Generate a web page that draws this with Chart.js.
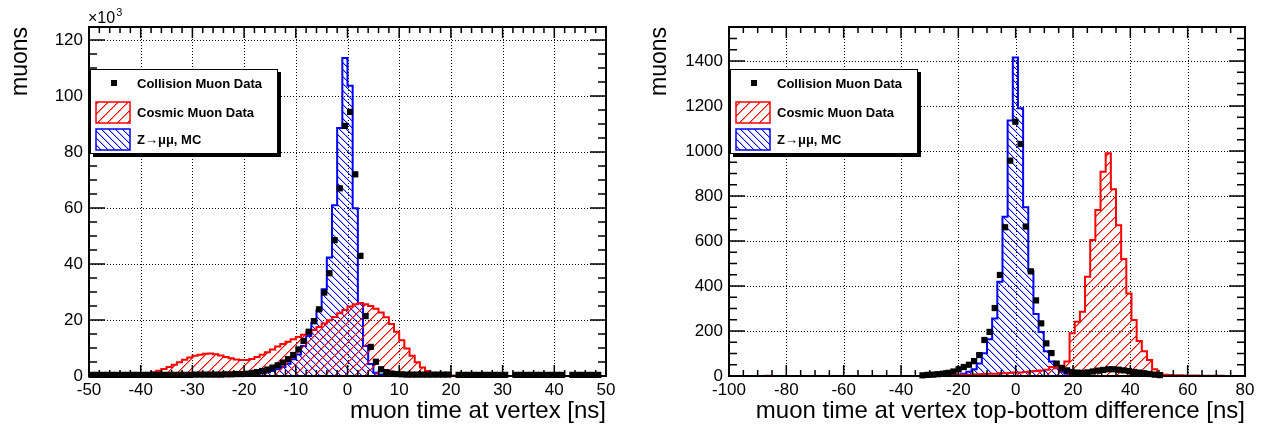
<!DOCTYPE html>
<html>
<head>
<meta charset="utf-8">
<script src="https://cdn.jsdelivr.net/npm/chart.js@4.4.1/dist/chart.umd.min.js"></script>
<style>
  html, body { margin: 0; padding: 0; background: #fff; }
  #wrap { display: flex; width: 1263px; height: 428px; }
  canvas { display: block; }
</style>
</head>
<body>
<div id="wrap">
  <canvas id="padVertex" width="632" height="428"></canvas>
  <canvas id="padTopBottom" width="631" height="428"></canvas>
</div>
<script>
// Muon timing at the vertex: collision data vs cosmics vs Z->mumu MC

const seriesNames = ['Collision Muon Data', 'Cosmic Muon Data', 'Z\u2192\u03bc\u03bc, MC'];

// left pad: 100 bins of 1 ns from -50 to 50, in units of 10^3 muons
const vertexBins = { lo: -50, hi: 50, n: 100 };
const vertexXTicks = [-50, -40, -30, -20, -10, 0, 10, 20, 30, 40, 50];
const vertexYTicks = [0, 20, 40, 60, 80, 100, 120];
const vertexCollision = [
  0.4, 0.4, 0.4, 0.4, 0.4, 0.4, 0.4, 0.4, 0.4, 0.4,
  0.4, 0.4, 0.4, 0.4, 0.4, 0.4, 0.4, 0.4, 0.4, 0.4,
  0.5, 0.5, 0.5, 0.5, 0.5, 0.5, 0.6, 0.6, 0.7, 0.7,
  0.8, 1.1, 1.4, 1.8, 2.3, 3.0, 3.8, 4.8, 6.0, 7.5,
  9.5, 12.5, 15.8, 19.6, 23.8, 29.8, 36.7, 48.5, 67, 89.3,
  94.3, 72, 42.9, 21.4, 10.4, 5.1, 2.4, 1.4, 0.9, 0.7,
  0.6, 0.5, 0.5, 0.5, 0.5, 0.5, 0.5, 0.5, 0.5, 0.5,
  null, 0.4, 0.4, 0.4, 0.4, 0.4, 0.4, 0.4, 0.4, 0.4,
  0.4, null, 0.4, 0.4, 0.4, 0.4, 0.4, 0.4, 0.4, 0.4,
  0.4, 0.4, null, 0.4, 0.4, 0.4, 0.4, 0.4, 0.4, null
];
const vertexCosmic = [
  0.1, 0.1, 0.1, 0.1, 0.1, 0.1, 0.1, 0.1, 0.2, 0.3,
  0.5, 0.8, 1.3, 1.9, 2.5, 3.2, 4.0, 4.9, 5.8, 6.6,
  7.2, 7.6, 7.9, 8.0, 7.8, 7.3, 6.8, 6.3, 5.9, 5.7,
  5.7, 6.1, 6.8, 7.6, 8.5, 9.5, 10.5, 11.4, 12.2, 13.1,
  13.9, 14.7, 15.5, 16.4, 17.5, 18.7, 19.9, 21.1, 22.4, 23.6,
  24.8, 25.6, 26.0, 25.6, 25.0, 24.0, 22.7, 21.0, 18.6, 15.8,
  12.8, 9.8, 7.2, 4.9, 3.0, 1.8, 1.1, 0.7, 0.4, 0.3,
  0.2, 0.1, 0, 0, 0, 0, 0, 0, 0, 0,
  0, 0, 0, 0, 0, 0, 0, 0, 0, 0,
  0, 0, 0, 0, 0, 0, 0, 0, 0, 0
];
const vertexZmumu = [
  0, 0, 0, 0, 0, 0, 0, 0, 0, 0,
  0, 0, 0, 0, 0, 0, 0, 0, 0, 0,
  0, 0, 0, 0, 0, 0.05, 0.08, 0.12, 0.18, 0.25,
  0.35, 0.5, 0.7, 1.0, 1.3, 1.8, 2.4, 3.2, 4.4, 6.0,
  7.7, 10.7, 14.3, 18.8, 23.5, 31, 42.3, 61, 88.5, 113.5,
  103.6, 59.9, 26, 10.7, 4.3, 1.2, 0.5, 0.3, 0.2, 0.1,
  0, 0, 0, 0, 0, 0, 0, 0, 0, 0,
  0, 0, 0, 0, 0, 0, 0, 0, 0, 0,
  0, 0, 0, 0, 0, 0, 0, 0, 0, 0,
  0, 0, 0, 0, 0, 0, 0, 0, 0, 0
];

// right pad: 100 bins of 1.8 ns from -100 to 80, in muons
const tbBins = { lo: -100, hi: 80, n: 100 };
const tbXTicks = [-100, -80, -60, -40, -20, 0, 20, 40, 60, 80];
const tbYTicks = [0, 200, 400, 600, 800, 1000, 1200, 1400];
const tbCollision = [
  null, null, null, null, null, null, null, null, null, null,
  null, null, null, null, null, null, null, null, null, null,
  null, null, null, null, null, null, null, null, null, null,
  null, null, null, null, null, null, null, 3, 5, 6,
  8, 10, 14, 20, 30, 40, 50, 66, 93, 160,
  196, 302, 449, 661, 957, 1130, 1031, 664, 465, 336,
  234, 145, 102, 55, 35, 25, 18, 15, 14, 16,
  20, 24, 27, 30, 30, 28, 25, 22, 18, 15,
  12, 9, 6, 4, null, null, null, null, null, null,
  null, null, null, null, null, null, null, null, null, null
];
const tbCosmic = [
  0, 0, 0, 0, 0, 0, 0, 1, 0, 0,
  0, 0, 0, 0, 0, 0, 0, 0, 0, 0,
  0, 0, 0, 0, 0, 0, 0, 0, 0, 0,
  0, 0, 0, 0, 0, 0, 0, 0, 0, 0,
  2, 3, 3, 4, 5, 5, 6, 7, 8, 9,
  10, 10, 12, 12, 13, 15, 16, 18, 20, 22,
  24, 28, 40, 35, 45, 64, 190, 241, 286, 441,
  604, 738, 908, 990, 830, 670, 520, 367, 249, 155,
  110, 71, 30, 12, 5, 4, 3, 3, 2, 2,
  2, 1, 1, 1, 1, 1, 0, 0, 0, 0
];
const tbZmumu = [
  0, 0, 0, 0, 0, 0, 0, 0, 0, 0,
  0, 0, 0, 0, 0, 0, 0, 0, 0, 0,
  0, 0, 0, 0, 0, 0, 0, 0, 0, 0,
  0, 0, 0, 0, 0, 0, 0, 0, 0, 0,
  0, 1, 2, 3, 5, 10, 19, 30, 56, 101,
  163, 255, 419, 708, 1135, 1416, 1190, 750, 465, 275,
  195, 110, 64, 34, 19, 10, 5, 3, 2, 1,
  0, 0, 0, 0, 0, 0, 0, 0, 0, 0,
  0, 0, 0, 0, 0, 0, 0, 0, 0, 0,
  0, 0, 0, 0, 0, 0, 0, 0, 0, 0
];

const FONT = "'Liberation Sans', Arial, Helvetica, sans-serif";
const RED = '#ff0000';
const BLUE = '#0000ff';

function binEdges(b) {
  const w = (b.hi - b.lo) / b.n;
  return Array.from({ length: b.n + 1 }, (_, i) => b.lo + i * w);
}

// ROOT-like 45 degree hatching: a solid pixel line with a softer neighbour
function hatch(ctx, rgb, dir, s, soft) {
  const c = document.createElement('canvas');
  c.width = s; c.height = s;
  const g = c.getContext('2d');
  for (let i = 0; i < s; i++) {
    const row = dir > 0 ? s - 1 - i : i;
    g.fillStyle = 'rgb(' + rgb + ')';
    g.fillRect(i, row, 1, 1);
    g.fillStyle = 'rgba(' + rgb + ',' + soft + ')';
    g.fillRect((i + 1) % s, row, 1, 1);
  }
  return ctx.createPattern(c, 'repeat');
}

function histo(label, edges, values, color, pattern, order) {
  const pts = [{ x: edges[0], y: 0 }];
  values.forEach((v, i) => {
    pts.push({ x: edges[i], y: v }, { x: edges[i + 1], y: v });
  });
  pts.push({ x: edges[edges.length - 1], y: 0 });
  return {
    label, data: pts, order,
    borderColor: color, borderWidth: 2,
    backgroundColor: pattern, fill: 'origin',
    pointRadius: 0, tension: 0, clip: 3
  };
}

function markers(label, edges, values, order) {
  const pts = [];
  values.forEach((v, i) => {
    if (v !== null) pts.push({ x: (edges[i] + edges[i + 1]) / 2, y: v });
  });
  return {
    label, data: pts, order, showLine: false,
    pointStyle: 'rect', pointRadius: 4.4, pointBorderWidth: 0,
    pointBackgroundColor: '#000', borderColor: '#000', backgroundColor: '#000',
    clip: 6
  };
}

function line(ctx, x1, y1, x2, y2) { ctx.moveTo(x1, y1); ctx.lineTo(x2, y2); }

const rootPad = {
  id: 'rootPad',
  beforeDatasetsDraw(chart, args, o) {
    // dotted grid at major ticks
    const { ctx, chartArea: a, scales: { x, y } } = chart;
    ctx.save();
    ctx.strokeStyle = '#000';
    ctx.lineWidth = 1;
    ctx.setLineDash([1, 2]);
    ctx.beginPath();
    o.xTicks.forEach(v => {
      const px = Math.round(x.getPixelForValue(v)) + 0.5;
      if (px > a.left + 2 && px < a.right - 2) line(ctx, px, a.top, px, a.bottom);
    });
    o.yTicks.forEach(v => {
      const py = Math.round(y.getPixelForValue(v)) + 0.5;
      if (py > a.top + 2 && py < a.bottom - 2) line(ctx, a.left, py, a.right, py);
    });
    ctx.stroke();
    ctx.restore();
  },
  afterDatasetsDraw(chart, args, o) {
    const { ctx, chartArea: a, scales: { x, y } } = chart;
    ctx.save();
    ctx.setLineDash([]);
    ctx.strokeStyle = '#000';
    ctx.lineWidth = 1.5;
    ctx.beginPath();
    for (let v = x.min; v <= x.max + 1e-6; v += o.xMinor) {
      const len = o.xTicks.some(t => Math.abs(t - v) < 1e-6) ? 11 : 6;
      const px = x.getPixelForValue(v);
      line(ctx, px, a.bottom, px, a.bottom - len);
      line(ctx, px, a.top, px, a.top + len);
    }
    for (let v = y.min; v <= y.max + 1e-6; v += o.yMinor) {
      const len = o.yTicks.some(t => Math.abs(t - v) < 1e-6) ? 16 : 8;
      const py = y.getPixelForValue(v);
      line(ctx, a.left, py, a.left + len, py);
      line(ctx, a.right, py, a.right - len, py);
    }
    ctx.stroke();
    ctx.lineWidth = 2;
    ctx.strokeRect(a.left, a.top, a.right - a.left, a.bottom - a.top);

    // legend box with shadow
    const ds = chart.data.datasets;
    const bx = a.left + 1, by = 69, bw = 188, bh = 85;
    ctx.fillStyle = '#000';
    ctx.fillRect(bx + 3, by + 3, bw, bh);
    ctx.fillStyle = '#fff';
    ctx.fillRect(bx, by, bw, bh);
    ctx.lineWidth = 1;
    ctx.strokeRect(bx + 0.5, by + 0.5, bw - 1, bh - 1);
    ctx.font = 'bold 13px ' + FONT;
    ctx.textBaseline = 'middle';
    ctx.textAlign = 'left';
    const rows = [14, 43, 70];
    ds.forEach((d, i) => {
      const cy = by + rows[i];
      if (d.showLine === false) {
        ctx.fillStyle = '#000';
        ctx.fillRect(bx + 21, cy - 3, 6, 6);
      } else {
        ctx.fillStyle = d.backgroundColor;
        ctx.fillRect(bx + 6, cy - 10, 34, 21);
        ctx.strokeStyle = d.borderColor;
        ctx.lineWidth = 1.5;
        ctx.strokeRect(bx + 6, cy - 10, 34, 21);
      }
      ctx.fillStyle = '#000';
      ctx.fillText(d.label, bx + 47, cy + 1);
    });

    if (o.exponent) {
      ctx.fillStyle = '#000';
      ctx.textBaseline = 'alphabetic';
      ctx.font = '16px ' + FONT;
      ctx.fillText('\u00d710', a.left - 1, 23);
      const w = ctx.measureText('\u00d710').width;
      ctx.font = '11px ' + FONT;
      ctx.fillText(o.exponent, a.left - 1 + w + 1, 16);
    }
    ctx.restore();
  }
};

function makePad(id, p) {
  const canvas = document.getElementById(id);
  const ctx = canvas.getContext('2d');
  const edges = binEdges(p.bins);
  const redFill = hatch(ctx, '255,0,0', 1, 10, 0.5);
  const blueFill = hatch(ctx, '0,0,255', -1, 7, 0.3);
  return new Chart(ctx, {
    type: 'line',
    data: {
      datasets: [
        markers(seriesNames[0], edges, p.collision, 0),
        histo(seriesNames[1], edges, p.cosmic, RED, redFill, 1),
        histo(seriesNames[2], edges, p.zmumu, BLUE, blueFill, 2)
      ]
    },
    options: {
      responsive: false,
      animation: false,
      events: [],
      layout: { padding: { top: 27, right: p.rightPad, left: 0, bottom: 0 } },
      plugins: {
        legend: { display: false },
        tooltip: { enabled: false },
        rootPad: {
          xTicks: p.xTicks, yTicks: p.yTicks,
          xMinor: p.xMinor, yMinor: p.yMinor,
          exponent: p.exponent
        }
      },
      scales: {
        x: {
          type: 'linear',
          min: p.bins.lo, max: p.bins.hi,
          afterBuildTicks: s => { s.ticks = p.xTicks.map(v => ({ value: v })); },
          afterFit: s => { s.height = 52; },
          grid: { display: false, drawTicks: false },
          border: { display: false },
          ticks: {
            color: '#000', font: { family: FONT, size: 17 },
            padding: 4, maxRotation: 0, autoSkip: false,
            callback: v => String(v)
          },
          title: {
            display: true, text: p.xTitle, align: 'end', color: '#000',
            font: { family: FONT, size: 24 }, padding: { top: 0, bottom: 2 }
          }
        },
        y: {
          type: 'linear',
          min: 0, max: p.yMax,
          afterBuildTicks: s => { s.ticks = p.yTicks.map(v => ({ value: v })); },
          afterFit: s => { s.width = p.yWidth; },
          grid: { display: false, drawTicks: false },
          border: { display: false },
          ticks: {
            color: '#000', font: { family: FONT, size: 17 },
            padding: 6, autoSkip: false,
            callback: v => String(v)
          },
          title: {
            display: true, text: 'muons', align: 'end', color: '#000',
            font: { family: FONT, size: 23 }, padding: { top: p.yTitlePad, bottom: 0 }
          }
        }
      }
    },
    plugins: [rootPad]
  });
}

makePad('padVertex', {
  bins: vertexBins, collision: vertexCollision, cosmic: vertexCosmic, zmumu: vertexZmumu,
  xTicks: vertexXTicks, yTicks: vertexYTicks, xMinor: 2, yMinor: 5,
  yMax: 124.6, yWidth: 89, rightPad: 26, yTitlePad: 7, exponent: '3',
  xTitle: 'muon time at vertex [ns]'
});

makePad('padTopBottom', {
  bins: tbBins, collision: tbCollision, cosmic: tbCosmic, zmumu: tbZmumu,
  xTicks: tbXTicks, yTicks: tbYTicks, xMinor: 5, yMinor: 50,
  yMax: 1551, yWidth: 97, rightPad: 18, yTitlePad: 14, exponent: null,
  xTitle: 'muon time at vertex top-bottom difference [ns]'
});
</script>
</body>
</html>
